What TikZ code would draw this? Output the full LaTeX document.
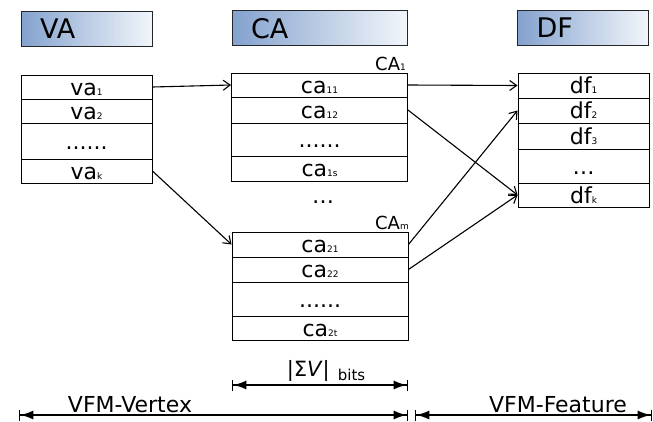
\documentclass[tikz,border=0pt]{standalone}
\usepackage{fontspec}
\setmainfont{DejaVu Sans}
\usetikzlibrary{arrows.meta}
\definecolor{hdrdark}{RGB}{132,162,206}
\definecolor{hdrlight}{RGB}{242,246,251}
\def\idx#1{{\fontsize{9}{9}\selectfont #1}}
\tikzset{
	cell/.style={draw, line width=0.9pt, inner sep=0pt, text height=16pt, text depth=0pt, font=\fontsize{22}{22}\selectfont},
	narrow/.style={minimum width=131pt},
	wide/.style={minimum width=176pt},
	hdr/.style={draw=black!85, line width=1pt, left color=hdrdark, right color=hdrlight, minimum height=35pt, inner xsep=19pt, inner ysep=0pt, text height=20.5pt, text depth=0pt, align=left, text width=#1, font=\fontsize{27}{27}\selectfont},
	link/.style={line width=1.1pt, -{Straight Barb[length=7pt,width=10pt]}},
	dim/.style={line width=1.5pt, {Bar[width=11pt,line width=1.3pt]Latex[length=13pt,width=9pt]}-{Latex[length=13pt,width=9pt]Bar[width=11pt,line width=1.3pt]}}
}
\begin{document}
\begin{tikzpicture}[x=1pt, y=-1pt]
			%%%%% START %%%%%
			\useasboundingbox (0, 0) rectangle (653, 421);
			
			\node[hdr=93pt] (hVA) at (86.5, 28.5) {VA};
			\node[hdr=137pt] (hCA) at (319.5, 28) {CA};
			\node[hdr=93pt] (hDF) at (583, 27.5) {DF};
			
			\node[cell, narrow, minimum height=24pt] (va1) at (86.5, 87) {va\idx{1}};
			\node[cell, narrow, minimum height=24pt] (va2) at (86.5, 111) {va\idx{2}};
			\node[cell, narrow, minimum height=36pt] (vadots) at (86.5, 141) {......};
			\node[cell, narrow, minimum height=24pt] (vak) at (86.5, 171) {va\idx{k}};
			
			\node[cell, wide, minimum height=24pt] (ca11) at (319.5, 85) {ca\idx{11}};
			\node[cell, wide, minimum height=26pt] (ca12) at (319.5, 110) {ca\idx{12}};
			\node[cell, wide, minimum height=33pt] (ca1dots) at (319.5, 139.5) {......};
			\node[cell, wide, minimum height=25pt] (ca1s) at (319.5, 168.5) {ca\idx{1s}};
			\node[anchor=base east, font=\fontsize{18}{18}\selectfont, inner sep=0pt] (lCA1) at (406, 70) {CA\idx{1}};
			
			\node[font=\fontsize{22}{22}\selectfont] (cadots) at (323, 202) {…};
			
			\node[cell, wide, minimum height=25pt] (ca21) at (320, 244.5) {ca\idx{21}};
			\node[cell, wide, minimum height=25pt] (ca22) at (320, 269.5) {ca\idx{22}};
			\node[cell, wide, minimum height=34pt] (ca2dots) at (320, 299) {......};
			\node[cell, wide, minimum height=24pt] (ca2t) at (320, 328) {ca\idx{2t}};
			\node[anchor=base east, font=\fontsize{18}{18}\selectfont, inner sep=0pt] (lCAm) at (409, 229) {CA\idx{m}};
			
			\node[cell, narrow, minimum height=25pt] (df1) at (583.5, 85.5) {df\idx{1}};
			\node[cell, narrow, minimum height=25pt] (df2) at (583.5, 110.5) {df\idx{2}};
			\node[cell, narrow, minimum height=26pt] (df3) at (583.5, 136) {df\idx{3}};
			\node[cell, narrow, minimum height=34pt] (dfdots) at (583.5, 166) {…};
			\node[cell, narrow, minimum height=24pt] (dfk) at (583.5, 195) {df\idx{k}};
			
			\draw[link] (va1.east) -- (ca11.west);
			\draw[link] (vak.east) -- (ca21.west);
			\draw[link] (ca11.east) -- (df1.west);
			\draw[link] (ca12.east) -- (dfk.west);
			\draw[link] (ca21.east) -- (df2.west);
			\draw[link] (ca22.east) -- (dfk.west);
			
			\coordinate (sigL) at (232, 385);
			\coordinate (sigR) at (408, 385);
			\coordinate (vtxL) at (19, 415);
			\coordinate (vtxR) at (408, 415);
			\coordinate (ftrL) at (415, 415);
			\coordinate (ftrR) at (652, 415);
			\draw[dim] (sigL) -- (sigR);
			\draw[dim] (vtxL) -- (vtxR);
			\draw[dim] (ftrL) -- (ftrR);
			
			\node[anchor=base, inner sep=0pt] (lSig) at (326, 376) {{\fontsize{21}{21}\selectfont|Σ\textit{V}|}\hspace{8pt}\raisebox{-4pt}{\fontsize{15}{15}\selectfont bits}};
			\node[anchor=base, inner sep=0pt, font=\fontsize{22}{22}\selectfont] (lVtx) at (130, 412) {VFM-Vertex};
			\node[anchor=base, inner sep=0pt, font=\fontsize{22}{22}\selectfont] (lFtr) at (558, 412) {VFM-Feature};
			
			%%%%% END %%%%%
\end{tikzpicture}
\end{document}
